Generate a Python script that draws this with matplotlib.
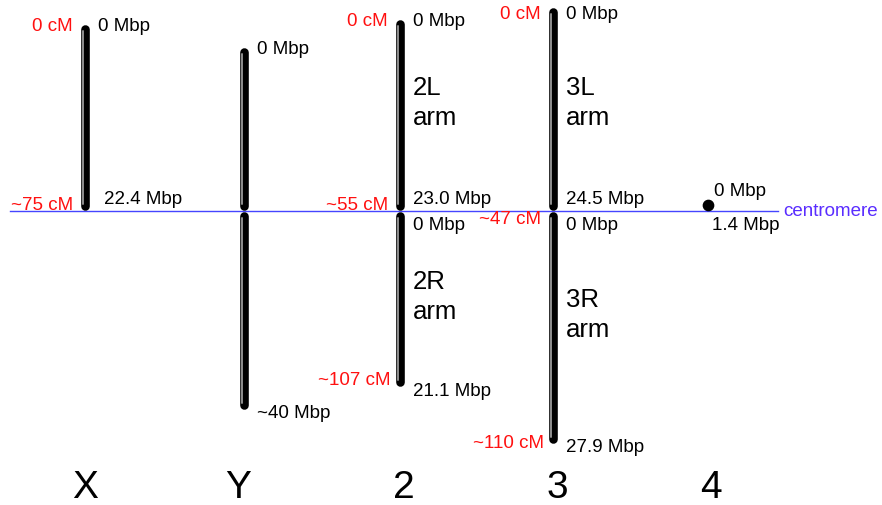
"""
Drosophila chromosome map: arms in Mbp, genetic positions in cM
"""

import matplotlib
matplotlib.use('Agg')
import matplotlib.pyplot as plt

# chromosome names and arm lengths (Mbp), left arm above centromere, right arm below
chrom_names = ['X', 'Y', '2', '3', '4']
left_arm_mbp = [22.4, 19.6, 23.0, 24.5, 0.0]
right_arm_mbp = [0.0, 23.8, 21.1, 27.9, 0.0]

# labels (text only)
top_mbp_labels = ['0 Mbp', '0 Mbp', '0 Mbp', '0 Mbp', '0 Mbp']
cen_left_labels = ['22.4 Mbp', None, '23.0 Mbp', '24.5 Mbp', None]
cen_right_labels = [None, None, '0 Mbp', '0 Mbp', '1.4 Mbp']
bottom_mbp_labels = [None, '~40 Mbp', '21.1 Mbp', '27.9 Mbp', None]
top_cm_labels = ['0 cM', None, '0 cM', '0 cM', None]
cen_cm_labels = ['~75 cM', None, '~55 cM', '~47 cM', None]
end_cm_labels = [None, None, '~107 cM', '~110 cM', None]
arm_names_left = [None, None, '2L\narm', '3L\narm', None]
arm_names_right = [None, None, '2R\narm', '3R\narm', None]

# layout (pixels / scale)
x_pos = [85, 244, 400, 553, 708]
label_x = [85, 238, 404, 557, 711]
px_per_mbp = 8.3
cen_px = 212
W, H = 882, 506

RED = '#ff1010'
BLUE = '#4545ff'
plt.rcParams['font.family'] = ['Liberation Sans', 'DejaVu Sans']

fig = plt.figure(figsize=(W / 100, H / 100), dpi=100)
ax = fig.add_axes([0, 0, 1, 1])
ax.set_xlim(0, W)
ax.set_ylim(-(H - cen_px) / px_per_mbp, cen_px / px_per_mbp)
ax.axis('off')


# pixel -> mbp helper for small offsets
def dp(px):
    return px / px_per_mbp


# centromere line
ax.plot([10, 778], [0, 0], color=BLUE, lw=1.0, zorder=1)
ax.text(783, dp(1), 'centromere', color='#5a2dff', fontsize=13.5,
        ha='left', va='center')


def draw_arm(x, y_a, y_b):
    # black rounded bar with grey highlight on its left side
    cap = dp(4)
    lo, hi = min(y_a, y_b) + cap, max(y_a, y_b) - cap
    ax.plot([x, x], [lo, hi], color='black', lw=6.2,
            solid_capstyle='round', zorder=3)
    ax.plot([x - 1.8, x - 1.8], [lo + dp(2), hi - dp(2)], color='#8f8f8f',
            lw=1.4, solid_capstyle='round', zorder=4)


fs = 13.5
for i, name in enumerate(chrom_names):
    x = x_pos[i]
    top = left_arm_mbp[i]
    bot = -right_arm_mbp[i]
    top_lab = min(top, dp(cen_px - 14))
    dot = top == 0 and right_arm_mbp[i] == 0
    if top > 0:
        draw_arm(x, dp(1), top)
    if right_arm_mbp[i] > 0:
        draw_arm(x, -dp(1), bot)
    if dot:
        ax.scatter([x], [dp(6)], s=55, color='black', zorder=4)

    # Mbp labels
    if dot:
        ax.text(x + 6, dp(20), top_mbp_labels[i], fontsize=fs, ha='left', va='center')
    else:
        ax.text(x + 13, top_lab, top_mbp_labels[i], fontsize=fs,
                ha='left', va='center')
    if cen_left_labels[i]:
        ax.text(x + (19 if name == 'X' else 13), dp(12), cen_left_labels[i],
                fontsize=fs, ha='left', va='center')
    if cen_right_labels[i]:
        ax.text(x + (4 if dot else 13), -dp(13), cen_right_labels[i], fontsize=fs,
                ha='left', va='center')
    if bottom_mbp_labels[i]:
        ax.text(x + 13, bot - dp(4), bottom_mbp_labels[i], fontsize=fs,
                ha='left', va='center')

    # cM labels
    if top_cm_labels[i]:
        ax.text(x - 12, top_lab, top_cm_labels[i], fontsize=fs, color=RED,
                ha='right', va='center')
    if cen_cm_labels[i]:
        yy = -dp(7) if name == '3' else dp(6)
        ax.text(x - 12, yy, cen_cm_labels[i], fontsize=fs, color=RED,
                ha='right', va='center')
    if end_cm_labels[i]:
        ax.text(x - 9, bot + dp(7) if name == '2' else bot, end_cm_labels[i],
                fontsize=fs, color=RED, ha='right', va='center')

    # arm names
    if arm_names_left[i]:
        ax.text(x + 13, dp(109), arm_names_left[i], fontsize=18.5,
                ha='left', va='center', linespacing=1.3)
    if arm_names_right[i]:
        yy = -dp(85) if name == '2' else -dp(103)
        ax.text(x + 13, yy, arm_names_right[i], fontsize=18.5,
                ha='left', va='center', linespacing=1.3)

    # chromosome name
    ax.text(label_x[i], -dp(488 - cen_px), name, fontsize=28,
            ha='center', va='center')

fig.savefig('out.png', dpi=100)
